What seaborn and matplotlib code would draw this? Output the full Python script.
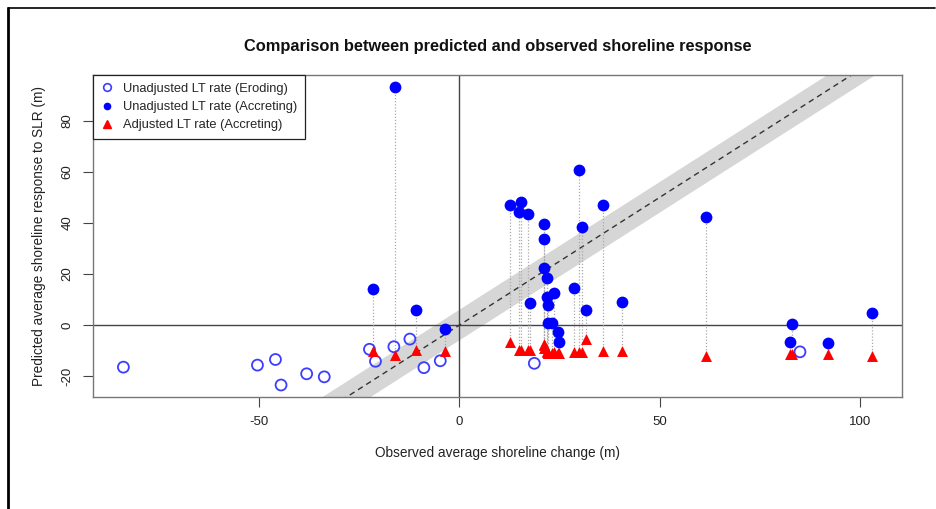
import matplotlib
matplotlib.use("Agg")
import matplotlib.pyplot as plt
from matplotlib.lines import Line2D
import numpy as np
import pandas as pd
import seaborn as sns

# ---- data ----
ero_x = [-84.0, -50.5, -46.0, -44.6, -38.2, -33.8, -22.5, -21.0, -16.4, -12.4, -8.9, -4.8, 18.7, 85.1]
ero_y = [-16.5, -15.7, -13.5, -23.5, -19.1, -20.3, -9.5, -14.2, -8.5, -5.5, -16.7, -14.0, -15.0, -10.5]

acc_x = [-21.6, -16.1, -10.9, -3.6, 12.6, 15.3, 14.9, 17.0, 17.5, 21.1, 21.0, 21.0, 21.8, 23.5,
         21.8, 22.2, 22.2, 23.0, 24.5, 24.8, 28.6, 29.8, 30.7, 31.6, 35.9, 40.5, 61.5, 83.2,
         82.7, 92.0, 103.1]
acc_y = [14.0, 93.2, 5.9, -1.7, 47.1, 48.4, 44.4, 43.4, 8.5, 39.6, 33.6, 22.5, 18.6, 12.7,
         11.1, 7.8, 0.9, 0.9, -2.6, -6.7, 14.4, 60.8, 38.5, 5.8, 47.1, 9.1, 42.5, 0.4,
         -6.8, -7.2, 4.6]
adj_y = [-10.1, -11.9, -9.9, -10.1, -6.5, -9.8, -9.8, -9.8, -9.8, -8.0, -7.5, -9.0, -10.0, -10.5,
         -10.5, -11.0, -11.0, -11.0, -11.0, -11.0, -10.5, -10.5, -10.5, -5.6, -10.2, -10.2, -12.2, -11.4,
         -11.4, -11.2, -12.2]

band_halfwidth = 6.0

x_ticks = [-50, 0, 50, 100]
y_ticks = [-20, 0, 20, 40, 60, 80]

title = "Comparison between predicted and observed shoreline response"
xlabel = "Observed average shoreline change (m)"
ylabel = "Predicted average shoreline response to SLR (m)"
legend_labels = ["Unadjusted LT rate (Eroding)", "Unadjusted LT rate (Accreting)",
                 "Adjusted LT rate (Accreting)"]

# ---- style ----
sns.set_style("white")
plt.rcParams["font.family"] = ["Liberation Sans", "DejaVu Sans"]

fig = plt.figure(figsize=(9.37, 5.09), dpi=100)
ax = fig.add_axes([93 / 937, 1 - 397 / 509, (902 - 93) / 937, (397 - 75) / 509])

xlim = (-91.6, 110.6)
ylim = (-28.2, 98.0)
ax.set_xlim(*xlim)
ax.set_ylim(*ylim)

# 1:1 band and line
xx = np.array([xlim[0] - 10, xlim[1] + 10])
ax.fill_between(xx, xx - band_halfwidth, xx + band_halfwidth, color="#d6d6d6", lw=0, zorder=1)
ax.plot(xx, xx, ls=(0, (4, 3)), color="#333333", lw=1.0, zorder=2)

# reference lines
ax.axhline(0, color="#444444", lw=1.0, zorder=1.5)
ax.axvline(0, color="#444444", lw=1.0, zorder=1.5)

# connecting dotted lines
ax.vlines(acc_x, adj_y, acc_y, colors="#aaaaaa", linestyles=(0, (1, 1.5)), lw=0.9, zorder=2)

df_e = pd.DataFrame({"x": ero_x, "y": ero_y})
df_a = pd.DataFrame({"x": acc_x, "y": acc_y})
df_t = pd.DataFrame({"x": acc_x, "y": adj_y})

sns.scatterplot(data=df_e, x="x", y="y", ax=ax, marker="o", s=62, facecolor="none",
                edgecolor="#3d3dff", linewidth=1.3, zorder=3)
sns.scatterplot(data=df_t, x="x", y="y", ax=ax, marker="^", s=62, color="red",
                edgecolor="red", linewidth=0, zorder=3)
sns.scatterplot(data=df_a, x="x", y="y", ax=ax, marker="o", s=72, color="blue",
                edgecolor="blue", linewidth=0, zorder=4)

ax.set_xticks(x_ticks)
ax.set_yticks(y_ticks)
ax.set_xticklabels([str(v) for v in x_ticks], fontsize=9.5)
ax.set_yticklabels([str(v) for v in y_ticks], fontsize=9.5, rotation=90, va="center")
ax.tick_params(axis="both", direction="out", length=7, width=0.8, color="#444444",
               bottom=True, left=True, labelcolor="#222222")
ax.tick_params(axis="x", pad=7)
ax.tick_params(axis="y", pad=7)
for sp in ax.spines.values():
    sp.set_color("#777777")
    sp.set_linewidth(1.0)

ax.set_xlabel(xlabel, fontsize=9.8, color="#222222", labelpad=13)
ax.set_ylabel(ylabel, fontsize=9.8, color="#222222", labelpad=11)
ax.set_title(title, fontsize=11.8, fontweight="bold", color="#111111", pad=17)

handles = [
    Line2D([], [], marker="o", ls="none", markerfacecolor="none", markeredgecolor="#3d3dff",
           markeredgewidth=1.2, markersize=5.5),
    Line2D([], [], marker="o", ls="none", markerfacecolor="blue", markeredgecolor="blue",
           markersize=4.5),
    Line2D([], [], marker="^", ls="none", markerfacecolor="red", markeredgecolor="red",
           markersize=5.5),
]
leg = ax.legend(handles, legend_labels, loc="upper left", bbox_to_anchor=(0, 1),
                borderaxespad=0, fontsize=9.3, frameon=True, fancybox=False,
                handlelength=1.0, handletextpad=0.7, labelspacing=0.48, borderpad=0.6)
leg.get_frame().set_edgecolor("#222222")
leg.get_frame().set_linewidth(0.9)
leg.get_frame().set_alpha(1)

# outer frame (screenshot border)
fig.add_artist(Line2D([8 / 937, 8 / 937], [0, 1 - 8 / 509], color="black", lw=2,
                      transform=fig.transFigure))
fig.add_artist(Line2D([8 / 937, 935 / 937], [1 - 8 / 509, 1 - 8 / 509], color="black", lw=1.2,
                      transform=fig.transFigure))

fig.savefig("out.png", dpi=100)
